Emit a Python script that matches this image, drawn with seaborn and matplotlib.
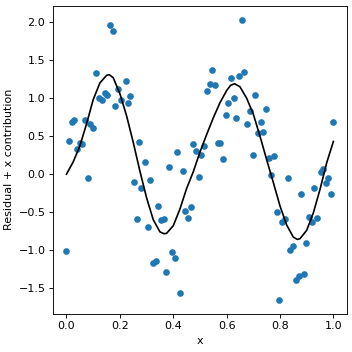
import numpy as np
import pandas as pd
import matplotlib
matplotlib.use("Agg")
import matplotlib.pyplot as plt
import seaborn as sns

# partial residuals
x_vals = [0.000, 0.010, 0.019, 0.029, 0.041, 0.049, 0.059, 0.070, 0.079, 0.089,
          0.100, 0.109, 0.122, 0.133, 0.145, 0.152, 0.162, 0.173, 0.180, 0.192,
          0.204, 0.222, 0.232, 0.239, 0.252, 0.263, 0.273, 0.280, 0.293, 0.305,
          0.313, 0.326, 0.335, 0.341, 0.353, 0.365, 0.372, 0.384, 0.395, 0.406,
          0.414, 0.425, 0.436, 0.444, 0.455, 0.466, 0.474, 0.486, 0.496, 0.505,
          0.515, 0.526, 0.538, 0.545, 0.556, 0.567, 0.575, 0.587, 0.598, 0.605,
          0.617, 0.628, 0.635, 0.647, 0.658, 0.665, 0.677, 0.688, 0.699, 0.707,
          0.717, 0.728, 0.737, 0.748, 0.759, 0.767, 0.778, 0.789, 0.797, 0.808,
          0.820, 0.831, 0.838, 0.850, 0.861, 0.870, 0.880, 0.891, 0.899, 0.910,
          0.921, 0.927, 0.940, 0.953, 0.961, 0.973, 0.981, 0.992, 1.000]
resid_vals = [-1.008, 0.439, 0.689, 0.716, 0.325, 0.408, 0.400, 0.707, -0.047, 0.654,
              0.601, 1.338, 0.996, 0.970, 1.071, 1.045, 1.970, 1.887, 0.891, 1.124,
              0.979, 1.220, 0.939, 1.031, -0.109, -0.587, 0.426, -0.179, 0.160, -0.692,
              -0.074, -1.171, -1.140, -0.416, -0.600, -0.592, -1.284, 0.100, -1.021, -1.100,
              0.294, -1.561, 0.045, -0.482, -0.574, -0.429, 0.400, 0.307, -0.034, 0.255,
              0.373, 1.101, 1.193, 1.373, 1.176, 0.413, 0.413, 0.202, 0.781, 0.939,
              1.268, 1.005, 0.742, 1.294, 2.030, 1.347, 0.663, 0.834, 0.255, 1.044,
              0.540, 0.684, 0.558, 0.861, 0.216, -0.008, 0.242, -0.495, -1.653, -0.626,
              -0.587, -0.047, -0.995, -0.942, -1.390, -1.337, -0.258, -1.311, -0.903, -0.561,
              -0.626, -0.179, -0.574, 0.032, 0.071, -0.122, -0.047, -0.258, 0.689]

# fitted contribution of x
curve_x = [0.000, 0.025, 0.050, 0.075, 0.100, 0.125, 0.150, 0.160, 0.175, 0.200,
           0.225, 0.250, 0.275, 0.300, 0.325, 0.350, 0.365, 0.375, 0.400, 0.425,
           0.450, 0.475, 0.500, 0.525, 0.550, 0.575, 0.600, 0.615, 0.630, 0.650,
           0.675, 0.700, 0.725, 0.750, 0.775, 0.800, 0.825, 0.850, 0.865, 0.875,
           0.900, 0.925, 0.950, 0.975, 1.000]
curve_y = [0.00, 0.16, 0.37, 0.66, 0.98, 1.20, 1.30, 1.31, 1.27, 1.06,
           0.77, 0.42, 0.04, -0.31, -0.60, -0.76, -0.785, -0.78, -0.68, -0.46,
           -0.19, 0.03, 0.29, 0.52, 0.74, 0.94, 1.10, 1.17, 1.19, 1.15,
           1.00, 0.79, 0.50, 0.19, -0.11, -0.42, -0.67, -0.83, -0.86, -0.85,
           -0.74, -0.51, -0.20, 0.15, 0.43]

pts = pd.DataFrame({"x": x_vals, "resid": resid_vals})
fit = pd.DataFrame({"x": curve_x, "y": curve_y})

fig, ax = plt.subplots(figsize=(4.4, 4.4), dpi=80)
sns.scatterplot(data=pts, x="x", y="resid", color="#1f77b4", s=36, linewidth=0, ax=ax)
sns.lineplot(data=fit, x="x", y="y", color="black", linewidth=1.5, sort=False, ax=ax)

ax.set_xlabel("x")
ax.set_ylabel("Residual + x contribution")
fig.subplots_adjust(left=0.151, right=0.985, top=0.983, bottom=0.109)
fig.savefig("out.png", dpi=80)
